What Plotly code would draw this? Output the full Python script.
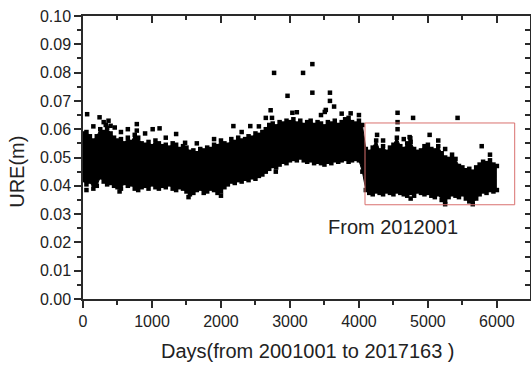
import plotly.graph_objects as go

# ---- data ----
days = list(range(0, 6001, 50))

ure_upper = [
    0.0585, 0.0590, 0.0575, 0.0560, 0.0575, 0.0600, 0.0590, 0.0605, 0.0585, 0.0570,
    0.0560, 0.0565, 0.0550, 0.0570, 0.0555, 0.0580, 0.0570, 0.0550, 0.0545, 0.0555,
    0.0540, 0.0560, 0.0550, 0.0540, 0.0545, 0.0535, 0.0550, 0.0545, 0.0530, 0.0540,
    0.0535, 0.0520, 0.0525, 0.0515, 0.0530, 0.0525, 0.0535, 0.0530, 0.0545, 0.0540,
    0.0560, 0.0550, 0.0545, 0.0565, 0.0555, 0.0570, 0.0560, 0.0565, 0.0575, 0.0570,
    0.0585, 0.0580, 0.0590, 0.0600, 0.0615, 0.0620, 0.0610, 0.0625, 0.0620, 0.0630,
    0.0625, 0.0635, 0.0620, 0.0630, 0.0615, 0.0625, 0.0630, 0.0615, 0.0625, 0.0620,
    0.0610, 0.0625, 0.0620, 0.0630, 0.0615, 0.0625, 0.0635, 0.0640, 0.0625, 0.0620,
    0.0630, 0.0615, 0.0530, 0.0520, 0.0535, 0.0560, 0.0525, 0.0540, 0.0520, 0.0535,
    0.0545, 0.0570, 0.0540, 0.0530, 0.0550, 0.0555, 0.0530, 0.0520, 0.0525, 0.0540,
    0.0545, 0.0530, 0.0525, 0.0540, 0.0515, 0.0500, 0.0495, 0.0510, 0.0495, 0.0470,
    0.0465, 0.0455, 0.0460, 0.0450, 0.0465, 0.0475, 0.0485, 0.0480, 0.0490, 0.0475,
    0.0470,
]

ure_lower = [
    0.0420, 0.0405, 0.0415, 0.0390, 0.0400, 0.0430, 0.0415, 0.0405, 0.0410, 0.0400,
    0.0395, 0.0390, 0.0410, 0.0400, 0.0405, 0.0390, 0.0385, 0.0395, 0.0400, 0.0390,
    0.0405, 0.0395, 0.0390, 0.0400, 0.0395, 0.0405, 0.0390, 0.0385, 0.0395, 0.0390,
    0.0380, 0.0370, 0.0375, 0.0385, 0.0390, 0.0375, 0.0380, 0.0390, 0.0385, 0.0375,
    0.0380, 0.0395, 0.0405, 0.0415, 0.0410, 0.0420, 0.0415, 0.0425, 0.0420, 0.0430,
    0.0425, 0.0435, 0.0440, 0.0450, 0.0460, 0.0470, 0.0465, 0.0475, 0.0485, 0.0480,
    0.0490, 0.0495, 0.0490, 0.0500, 0.0490, 0.0485, 0.0490, 0.0480, 0.0485, 0.0480,
    0.0475, 0.0485, 0.0480, 0.0490, 0.0485, 0.0490, 0.0495, 0.0485, 0.0490, 0.0495,
    0.0490, 0.0450, 0.0385, 0.0375, 0.0370, 0.0380, 0.0375, 0.0370, 0.0380, 0.0375,
    0.0370, 0.0380, 0.0375, 0.0370, 0.0365, 0.0375, 0.0365, 0.0380, 0.0375, 0.0370,
    0.0375, 0.0365, 0.0360, 0.0370, 0.0350, 0.0345, 0.0360, 0.0370, 0.0365, 0.0360,
    0.0370, 0.0355, 0.0345, 0.0335, 0.0355, 0.0370, 0.0380, 0.0375, 0.0385, 0.0380,
    0.0385,
]

outlier_days = [60, 240, 330, 370, 400, 460, 780, 780, 1010, 1110, 1350, 1480,
                2180, 2425, 2720, 2740, 2770, 2795, 2965, 3035, 3190, 3325, 3325,
                3505, 3520, 3580, 3580, 3640, 3880, 4263, 4560, 4560, 4560, 4735,
                4745, 4785, 5025, 5430, 5780,
                150, 300, 550, 650, 900, 1200, 1650, 1900, 2300, 2550, 2650, 3100,
                3450, 3750, 4000, 4350, 4650, 5150, 5250, 5900,
                50, 530, 1530, 2000, 4750, 5250]
outlier_ure = [0.0653, 0.0642, 0.0615, 0.0630, 0.0612, 0.0606, 0.0618, 0.0595, 0.0600,
               0.0603, 0.0583, 0.0552, 0.0611, 0.0611, 0.0667, 0.0640, 0.0799, 0.0450,
               0.0718, 0.0658, 0.0799, 0.0830, 0.0729, 0.0661, 0.0668, 0.0729, 0.0700,
               0.0680, 0.0656, 0.0580, 0.0658, 0.0625, 0.0600, 0.0572, 0.0568, 0.0640,
               0.0580, 0.0640, 0.0540,
               0.0610, 0.0625, 0.0590, 0.0600, 0.0585, 0.0570, 0.0550, 0.0565, 0.0590,
               0.0610, 0.0640, 0.0660, 0.0650, 0.0655, 0.0650, 0.0560, 0.0565, 0.0560,
               0.0530, 0.0510,
               0.0385, 0.0380, 0.0360, 0.0365, 0.0355, 0.0335]

box_days = [4088, 6258]
box_ure = [0.0333, 0.0622]

x_ticks = [0, 1000, 2000, 3000, 4000, 5000, 6000]
y_ticks = [0.00, 0.01, 0.02, 0.03, 0.04, 0.05, 0.06, 0.07, 0.08, 0.09, 0.10]
y_tick_labels = ["0.00", "0.01", "0.02", "0.03", "0.04", "0.05", "0.06", "0.07",
                 "0.08", "0.09", "0.10"]

x_title = "Days(from 2001001 to 2017163 )"
y_title = "URE(m)"
note_text = "From 2012001"

# ---- figure ----
FONT = "Arial, Liberation Sans, sans-serif"
AX = "#2a2a2a"
sq = dict(symbol="square", size=4.5, color="black", line=dict(width=0))
edge = dict(color="black", width=1)

fig = go.Figure()
fig.add_trace(go.Scatter(x=days, y=ure_lower, mode="lines+markers", marker=sq,
                         line=edge, showlegend=False, hoverinfo="skip"))
fig.add_trace(go.Scatter(x=days, y=ure_upper, mode="lines+markers", marker=sq,
                         line=edge, fill="tonexty", fillcolor="black",
                         showlegend=False, hoverinfo="skip"))
fig.add_trace(go.Scatter(x=outlier_days, y=outlier_ure, mode="markers", marker=sq,
                         showlegend=False))
# empty trace to activate mirrored (top/right) axes
fig.add_trace(go.Scatter(x=[], y=[], xaxis="x2", yaxis="y2", showlegend=False))

xr = [0, 6480]
yr = [0, 0.1]

fig.update_layout(
    width=531, height=365,
    margin=dict(l=83, r=1, t=16, b=66),
    paper_bgcolor="white", plot_bgcolor="white",
    font=dict(family=FONT, color="#222", size=16),
    xaxis=dict(range=xr, tickvals=x_ticks, ticks="outside", ticklen=7, tickwidth=1.5,
               tickcolor=AX, showline=True, linecolor=AX, linewidth=1.5,
               showgrid=False, zeroline=False,
               minor=dict(ticks="outside", ticklen=4, tickwidth=1.5, dtick=500,
                          tickcolor=AX, showgrid=False),
               tickfont=dict(size=16)),
    yaxis=dict(range=yr, tickvals=y_ticks, ticktext=y_tick_labels, ticks="outside",
               ticklen=7, tickwidth=1.5, tickcolor=AX, showline=True, linecolor=AX,
               linewidth=1.5, showgrid=False, zeroline=False,
               minor=dict(ticks="outside", ticklen=4, tickwidth=1.5, dtick=0.005,
                          tickcolor=AX, showgrid=False),
               tickfont=dict(size=16)),
    xaxis2=dict(range=xr, overlaying="x", side="top", anchor="y", tickvals=x_ticks,
                ticks="inside", ticklen=7, tickwidth=1.5, tickcolor=AX,
                showticklabels=False, showline=True, linecolor=AX, linewidth=1.5,
                showgrid=False, zeroline=False,
                minor=dict(ticks="inside", ticklen=4, tickwidth=1.5, dtick=500,
                           tickcolor=AX, showgrid=False)),
    yaxis2=dict(range=yr, overlaying="y", side="right", anchor="x",
                tick0=0, dtick=0.005, ticks="inside", ticklen=5, tickwidth=1.5,
                tickcolor=AX, showticklabels=False, showline=True, linecolor=AX,
                linewidth=1.5, showgrid=False, zeroline=False),
)

fig.add_shape(type="rect", xref="x", yref="y",
              x0=box_days[0], x1=box_days[1], y0=box_ure[0], y1=box_ure[1],
              line=dict(color="#d9716f", width=1), layer="above")

fig.add_annotation(text=note_text, xref="x", yref="y", x=4494, y=0.0253,
                   showarrow=False, xanchor="center", yanchor="middle",
                   font=dict(size=20, family=FONT, color="#222"))
fig.add_annotation(text=x_title, xref="paper", yref="paper", x=0.503, y=-0.182,
                   showarrow=False, xanchor="center", yanchor="middle",
                   font=dict(size=20, family=FONT, color="#222"))
fig.add_annotation(text=y_title, xref="paper", yref="paper", x=-0.148, y=0.449,
                   textangle=-90, showarrow=False, xanchor="center", yanchor="middle",
                   font=dict(size=20, family=FONT, color="#222"))

fig.write_html(
    "out.html",
    config={"displayModeBar": False},
    post_script="document.body.style.margin='0';document.body.style.padding='0';"
                "document.body.style.overflow='hidden';",
)
